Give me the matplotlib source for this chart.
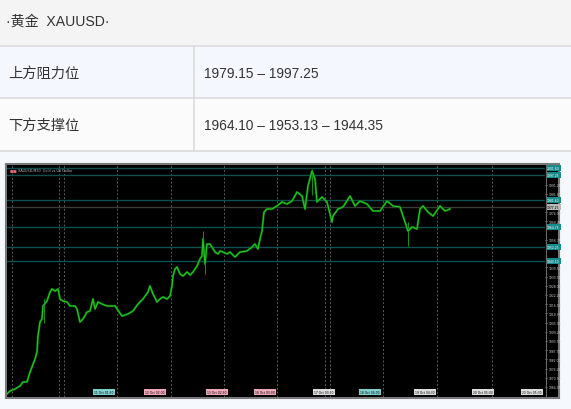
# gold (XAUUSD) support / resistance table with a price chart screenshot underneath
import matplotlib.pyplot as plt
from matplotlib.patches import Rectangle
from matplotlib.transforms import blended_transform_factory
import numpy as np

# the figure is 571x410 pixels
W, H = 571, 410

# table texts
title_text = "·黄金  XAUUSD·"
row_names = ["上方阻力位", "下方支撑位"]
row_values = ["1979.15 – 1997.25", "1964.10 – 1953.13 – 1944.35"]

# price path (bar number, close)
bars = [0, 3, 8, 13, 16, 20, 23, 25, 28, 30, 31, 33, 35, 36, 40, 43, 45, 48, 51, 53,
        56, 60, 63, 68, 70, 73, 76, 80, 83, 86, 88, 91,
        95, 100, 108, 115, 121, 126, 131, 136, 141,
        143, 146, 150, 153, 156, 160, 163, 165, 166, 168, 170, 173, 176, 180, 183,
        186, 188, 190, 193, 195, 196, 198, 200, 203, 205, 208, 211, 213, 216, 220, 223,
        228, 233, 240, 245, 248, 251, 253, 255, 257, 260, 265, 270, 275, 280, 285,
        290, 295, 298, 301, 305, 308, 310, 315, 320, 325, 326, 331, 336, 343, 348,
        353, 360, 366, 373, 380, 386, 393, 397, 401, 405, 410, 413, 416, 421, 426,
        433, 438, 443]
prices = [1860.4, 1862.25, 1863.5, 1865.4, 1867.9, 1867.9, 1874.1, 1877.25, 1882.25, 1886.6,
          1896.6, 1905.4, 1907.25, 1915.4, 1918.5, 1924.1, 1926.0, 1924.75, 1926.0, 1919.75,
          1918.5, 1917.9, 1915.4, 1915.4, 1913.5, 1905.4, 1907.25, 1911.6, 1912.25, 1919.75,
          1913.5, 1917.9,
          1916.6, 1915.4, 1915.4, 1909.1, 1910.4, 1912.25, 1916.6, 1919.75, 1924.1,
          1927.9, 1922.9, 1917.9, 1919.75, 1921.0, 1919.75, 1921.6, 1927.9, 1934.1, 1938.5,
          1939.75, 1935.4, 1934.1, 1936.6, 1934.75, 1936.6, 1938.5, 1940.4, 1944.75, 1946.6,
          1957.25, 1941.6, 1954.1, 1954.1, 1952.25, 1949.1, 1947.9, 1949.75, 1949.1, 1947.9,
          1949.1,
          1946.0, 1949.1, 1949.75, 1952.25, 1954.1, 1951.0, 1957.25, 1962.25, 1974.1, 1976.0,
          1976.0, 1977.9, 1980.4, 1979.1, 1981.0, 1986.6, 1984.1, 1976.0, 1990.4, 1999.75,
          1994.75, 1980.4, 1983.5, 1980.4, 1967.9, 1971.6, 1976.0, 1977.25, 1984.1, 1977.9,
          1981.0, 1979.1, 1974.75, 1974.75, 1981.0, 1977.9, 1977.25, 1969.75, 1962.25, 1964.75,
          1963.5, 1976.0, 1977.9, 1974.1, 1971.6, 1977.9, 1974.75, 1976.0]

# a few long wicks (bar, low, high)
wick_bars = [37, 196, 198, 305, 401]
wick_lows = [1905.0, 1950.0, 1935.4, 1985.0, 1952.9]
wick_highs = [1920.0, 1962.25, 1950.0, 2001.0, 1968.0]

# horizontal levels drawn on the chart
levels = [2001.6, 1997.25, 1981.6, 1964.75, 1952.25, 1943.5]
current_price = 1977.25

# vertical session separators (bar numbers)
separators = [5, 52, 57, 110, 164, 217, 270, 318, 323, 376, 430, 485]

# time axis labels
time_bars = [97, 148, 210, 258, 317, 363, 418, 476, 525]
time_labels = ["11 Oct 01:30", "12 Oct 02:00", "13 Oct 02:30", "16 Oct 03:00",
               "17 Oct 03:30", "18 Oct 04:00", "19 Oct 04:30", "20 Oct 05:00", "23 Oct 05:30"]
time_colors = ["#7fd0cf", "#f0a8b8", "#f0a8b8", "#f0a8b8", "#dddddd",
               "#7fd0cf", "#dddddd", "#dddddd", "#dddddd"]

# price scale ticks, leaving out the ones hidden under a level tag
tags = levels + [current_price]
price_ticks = [t for t in np.arange(1864.75, 2003.0, 5.75)
               if min(abs(t - g) for g in tags) > 2.8]

fonts = ["Liberation Sans", "Noto Sans CJK SC"]

fig = plt.figure(figsize=(W / 100, H / 100), dpi=100)
fig.patch.set_facecolor("#f5f9fe")


def fy(y):
    # pixel row (from the top) to figure fraction
    return 1 - y / H


def fx(x):
    return x / W


def back_rect(x, y, w, h, **kw):
    # rectangle in pixel units, drawn behind the axes
    r = Rectangle((fx(x), fy(y + h)), w / W, h / H, transform=fig.transFigure, zorder=-5, **kw)
    fig.patches.append(r)


# table backgrounds
back_rect(0, 0, W, 47, facecolor="#f4f4f4", edgecolor="none")
back_rect(0, 47, W, 52, facecolor="#f4f8fe", edgecolor="none")
back_rect(0, 99, W, 53, facecolor="#fbfbfb", edgecolor="none")

# table lines
for y in [47, 99, 152]:
    fig.add_artist(plt.Line2D([0, 1], [fy(y), fy(y)], color="#dcdcdc", lw=1.2))
fig.add_artist(plt.Line2D([fx(194), fx(194)], [fy(47), fy(152)], color="#dcdcdc", lw=1.2))

# table texts
fig.text(fx(6), fy(22), title_text, family=fonts, fontsize=10.1, color="#333333", va="center")
for i in range(2):
    yc = 74 + i * 52
    fig.text(fx(8), fy(yc), row_names[i], family=fonts, fontsize=10.3, color="#333333", va="center")
    fig.text(fx(204), fy(yc), row_values[i], family=fonts, fontsize=9.9, color="#333333", va="center")

# chart frame and price strip
back_rect(6, 165, 553, 234, facecolor="black", edgecolor="#7a7a7a", lw=1.5)

ax = fig.add_axes([fx(7), fy(398), (545 - 7) / W, (398 - 166) / H])
ax.set_facecolor("black")
ax.set_xlim(0, 538)
ax.set_ylim(1858.5, 2003.5)

for s in separators:
    ax.axvline(s, color="#5a5a5a", lw=0.7, ls=(0, (2, 2)))
for lv in levels:
    ax.axhline(lv, color="#0f4f50", lw=1.0)
ax.axhline(current_price, color="#3a3a3a", lw=1.0)

# wicks and the price path
ax.vlines(wick_bars, wick_lows, wick_highs, color="#139613", lw=0.7)
ax.plot(bars, prices, color="#0b740b", lw=1.6)
ax.plot(bars, prices, color="#25cc25", lw=0.7)

for side in ax.spines.values():
    side.set_visible(False)
ax.set_xticks([])
ax.yaxis.tick_right()
ax.set_yticks(price_ticks)
ax.set_yticklabels([f"{t:.2f}" for t in price_ticks])
ax.tick_params(axis="y", length=1.5, width=0.5, color="#aaaaaa", labelsize=2.2,
               labelcolor="#cccccc", pad=0.8)

# price strip separator
fig.add_artist(plt.Line2D([fx(545.5), fx(545.5)], [fy(398), fy(166)], color="#6a6a6a", lw=0.8))

# level tags on the price scale
yt = blended_transform_factory(ax.transAxes, ax.transData)
for lv in levels:
    ax.text(1.004, lv, f"{lv:.2f}", transform=yt, fontsize=2.2, color="white", va="center",
            bbox=dict(boxstyle="square,pad=0.3", facecolor="#148c8c", edgecolor="none"),
            clip_on=False, zorder=5)
ax.text(1.004, current_price, f"{current_price:.2f}", transform=yt, fontsize=2.2, color="black",
        va="center", bbox=dict(boxstyle="square,pad=0.3", facecolor="#b8b8b8", edgecolor="none"),
        clip_on=False, zorder=5)

# time labels along the bottom
xt = blended_transform_factory(ax.transData, ax.transAxes)
for b, lab, c in zip(time_bars, time_labels, time_colors):
    ax.text(b, 0.012, lab, transform=xt, fontsize=2.2, color="black", ha="center", va="bottom",
            bbox=dict(boxstyle="square,pad=0.3", facecolor=c, edgecolor="none"))

# symbol caption at the top left
ax.text(0.004, 0.985, "■■", transform=ax.transAxes, fontsize=3, color="#e06070", va="top")
ax.text(0.02, 0.985, "XAUUSD,M30  Gold vs US Dollar", transform=ax.transAxes, fontsize=2.4,
        color="#bbbbbb", va="top")

plt.savefig("out.png", dpi=100, facecolor=fig.get_facecolor())
